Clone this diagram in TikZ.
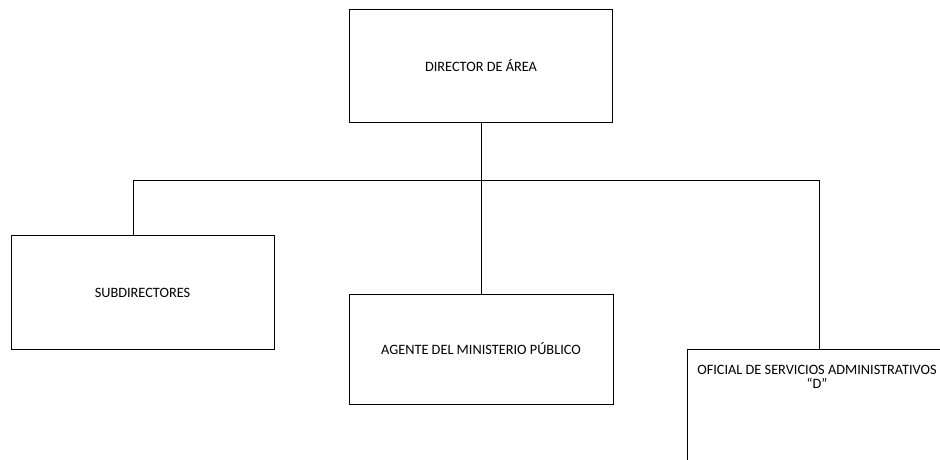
\documentclass[tikz,border=0pt]{standalone}
\usepackage{fontspec}
\setmainfont{Carlito}
\begin{document}
\begin{tikzpicture}[x=1pt,y=-1pt,
  orgbox/.style={draw=black,line width=1pt,rectangle,inner sep=0pt,align=center,font=\fontsize{14.3}{17}\selectfont},
  conn/.style={draw=black,line width=1pt}]
\clip (0,0) rectangle (940,459);
\node[orgbox,minimum width=263pt,minimum height=113pt] (dir) at (481,65.5) {DIRECTOR DE ÁREA};
\node[orgbox,minimum width=263pt,minimum height=114pt] (sub) at (142.5,292.5) {SUBDIRECTORES};
\node[orgbox,minimum width=264pt,minimum height=110pt] (age) at (481,349) {AGENTE DEL MINISTERIO PÚBLICO};
\node[orgbox,minimum width=263pt,minimum height=120pt,anchor=north west] (ofi) at (687,349) {};
\node[font=\fontsize{14.3}{14}\selectfont,align=center,inner sep=0pt] (ofit) at (817,377) {OFICIAL DE SERVICIOS ADMINISTRATIVOS\\“D”};
\coordinate (busL) at (133,180);
\coordinate (busR) at (819,180);
\draw[conn] (dir.south) -- (age.north);
\draw[conn] (busL |- sub.north) -- (busL) -- (busR) -- (busR |- ofi.north);
\end{tikzpicture}
\end{document}
